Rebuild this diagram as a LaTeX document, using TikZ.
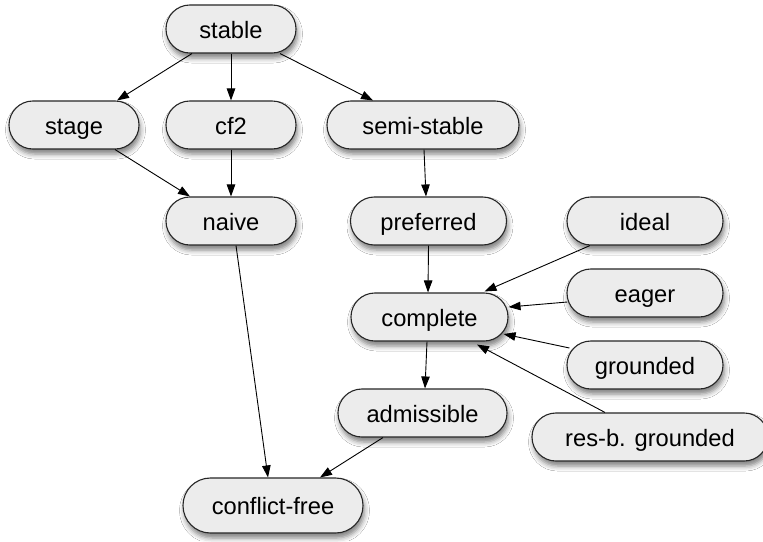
\documentclass[tikz,border=0pt]{standalone}
\usepackage{fontspec}
\setmainfont{Liberation Sans}
\usetikzlibrary{arrows.meta,shadows.blur}
\tikzset{
  sem/.style={draw=black!85, line width=1.1pt, fill=gray!15, rectangle,
    rounded corners=23.9pt, minimum height=48pt, inner sep=0pt,
    text height=22pt, text depth=4pt,
    font=\fontsize{23.7}{28}\selectfont,
    blur shadow={shadow xshift=1.5pt, shadow yshift=-5pt, shadow blur radius=5pt, shadow opacity=50}},
  arr/.style={draw=black, line width=0.9pt, -{Triangle[length=12pt,width=8.5pt]}}
}
\begin{document}
\begin{tikzpicture}[x=1pt,y=-1pt]
\fill[white] (0,0) rectangle (763,541);
\useasboundingbox (0,0) rectangle (763,541);
\node[sem, minimum width=130pt] (stable) at (231,29) {stable};
\node[sem, minimum width=130pt] (stage) at (74,125) {stage};
\node[sem, minimum width=130pt] (cf2) at (231,125) {cf2};
\node[sem, minimum width=192pt] (semi) at (423,125) {semi-stable};
\node[sem, minimum width=130pt] (naive) at (231,221) {naive};
\node[sem, minimum width=156pt] (pref) at (428.5,221) {preferred};
\node[sem, minimum width=156pt] (ideal) at (645,221) {ideal};
\node[sem, minimum width=156pt] (eager) at (645,293) {eager};
\node[sem, minimum width=157pt] (compl) at (429.5,317) {complete};
\node[sem, minimum width=156pt] (ground) at (645,365) {grounded};
\node[sem, minimum width=169pt] (adm) at (422.5,413) {admissible};
\node[sem, minimum width=236pt] (resb) at (650,437) {res-b. grounded};
\node[sem, minimum width=180pt, minimum height=55pt, rounded corners=27.4pt] (cfree) at (273,505.5) {conflict-free};

\draw[arr] ([xshift=-39pt]stable.south) -- ([xshift=43pt]stage.north);
\draw[arr] (stable.south) -- (cf2.north);
\draw[arr] ([xshift=49pt]stable.south) -- ([xshift=-50pt]semi.north);
\draw[arr] ([xshift=41pt]stage.south) -- ([xshift=-41pt]naive.north);
\draw[arr] (cf2.south) -- (naive.north);
\draw[arr] ([xshift=1pt]semi.south) -- ([xshift=-2.5pt]pref.north);
\draw[arr] ([xshift=5pt]naive.south) -- ([xshift=-5pt]cfree.north);
\draw[arr] (pref.south) -- ([xshift=-1.5pt]compl.north);
\draw[arr] ([xshift=-2.5pt]compl.south) -- ([xshift=2.5pt]adm.north);
\draw[arr] ([xshift=-39.5pt]adm.south) -- ([xshift=47pt]cfree.north);
\draw[arr] ([xshift=-55pt]ideal.south) -- ([xshift=55pt,yshift=1pt]compl.north);
\draw[arr] ([xshift=1pt,yshift=-9pt]eager.west) -- ([yshift=10pt]compl.east);
\draw[arr] ([xshift=3pt,yshift=17pt]ground.west) -- ([xshift=-5pt,yshift=-17pt]compl.east);
\draw[arr] ([xshift=-45pt]resb.north) -- ([xshift=47.5pt,yshift=-3pt]compl.south);
\end{tikzpicture}
\end{document}
